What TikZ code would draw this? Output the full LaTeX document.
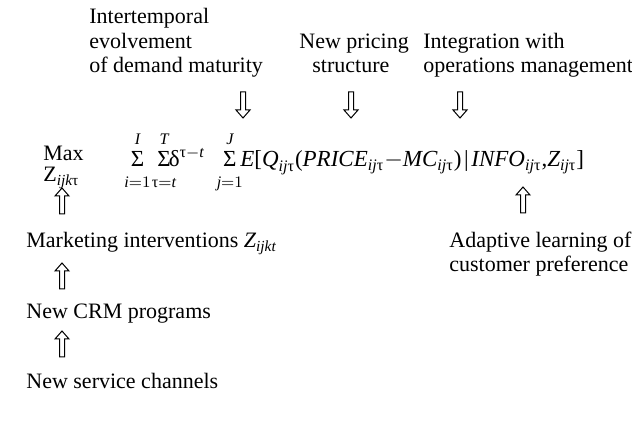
\documentclass[tikz,border=0pt]{standalone}
\usepackage{amsmath}
\usepackage{fontspec}
\setmainfont{Liberation Serif}

% italic variable, upright symbol letters
\newcommand{\vv}[1]{\textit{#1}}
\newcommand{\gk}[1]{\text{#1}}
% summation sign with room for its limits
\newcommand{\bsum}{\mathop{\text{Σ}\rule[-3pt]{0pt}{12pt}}\limits}

\begin{document}
\begin{tikzpicture}[x=0.5pt,y=-0.5pt,
  lbl/.style={inner sep=0pt,anchor=base west,font=\fontsize{11}{12.25}\selectfont,align=left},
  hollow up/.pic={\draw[line width=0.5pt,fill=white]
      (-2.5,0) -- (-2.5,-18) -- (-7,-18) -- (0,-26) -- (7,-18) -- (2.5,-18) -- (2.5,0) -- cycle;},
  hollow down/.pic={\draw[line width=0.5pt,fill=white]
      (-2.5,0) -- (-2.5,18) -- (-7,18) -- (0,26) -- (7,18) -- (2.5,18) -- (2.5,0) -- cycle;}]
\useasboundingbox (0,0) rectangle (632,421);

% influences from above (base = last line)
\node[lbl] (inter) at (89,73) {Intertemporal\\evolvement\\of demand maturity};
\node[lbl] (pricing) at (299,73) {New pricing\\\hspace*{6.5pt}structure};
\node[lbl] (integ) at (423,73) {Integration with\\operations management};

% objective function
\node[lbl,font=\fontsize{11}{10.5}\selectfont] (max) at (43,182) {Max\\Z$_{\vv{ijk}\gk{τ}}$};
\node[lbl,font=\fontsize{11.5}{12}\selectfont] (obj) at (124,167) {$\bsum_{\vv{i}=1}^{\vv{I}}\mkern-2mu
  \bsum_{\gk{τ}=\vv{t}}^{\vv{T}}\mkern-8.5mu\gk{δ}^{\gk{τ}{-}\vv{t}}\mkern6mu
  \bsum_{\vv{j}=1}^{\vv{J}}\mkern-5mu\vv{E}\gk{[}\vv{Q}_{\vv{ij}\gk{τ}}\gk{(}\vv{PRICE}_{\vv{ij}\gk{τ}}{-}\vv{MC}_{\vv{ij}\gk{τ}}\gk{)}\mkern2mu\gk{|}\mkern2mu\vv{INFO}_{\vv{ij}\gk{τ}}\gk{,}\vv{Z}_{\vv{ij}\gk{τ}}\gk{]}$};

% drivers from below
\node[lbl] (mkt) at (26,248) {Marketing interventions $\vv{Z}_{\vv{ijkt}}$};
\node[lbl] (crm) at (26,319) {New CRM programs};
\node[lbl] (chan) at (26,389) {New service channels};
\node[lbl] (adapt) at (449,272) {Adaptive learning of\\customer preference};

% block arrows
\coordinate (d1) at (243,92);
\coordinate (d2) at (351,92);
\coordinate (d3) at (460,92);
\coordinate (u1) at (62,214);
\coordinate (u2) at (62,289);
\coordinate (u3) at (62,357);
\coordinate (u4) at (523,213);
\foreach \c in {d1,d2,d3} \pic at (\c) {hollow down};
\foreach \c in {u1,u2,u3,u4} \pic at (\c) {hollow up};
\end{tikzpicture}
\end{document}
